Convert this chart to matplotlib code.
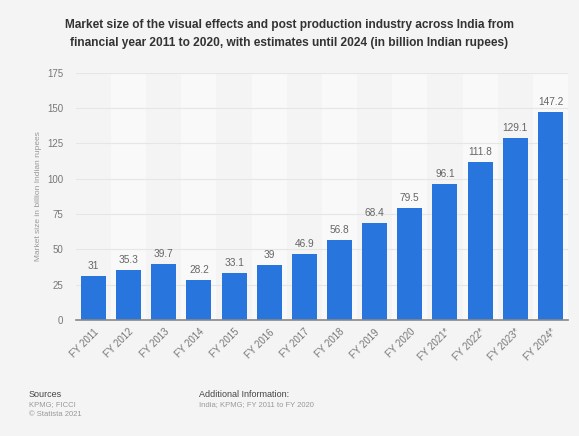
import matplotlib.pyplot as plt

plt.rcParams['font.family'] = ['Liberation Sans', 'DejaVu Sans']

# Datos
years = ['FY 2011', 'FY 2012', 'FY 2013', 'FY 2014', 'FY 2015', 'FY 2016', 'FY 2017',
         'FY 2018', 'FY 2019', 'FY 2020', 'FY 2021*', 'FY 2022*', 'FY 2023*', 'FY 2024*']
values = [31, 35.3, 39.7, 28.2, 33.1, 39, 46.9, 56.8, 68.4, 79.5, 96.1, 111.8, 129.1, 147.2]
labels = ['31', '35.3', '39.7', '28.2', '33.1', '39', '46.9', '56.8', '68.4', '79.5',
          '96.1', '111.8', '129.1', '147.2']
yticks = [0, 25, 50, 75, 100, 125, 150, 175]

bg = '#f4f4f4'
fig = plt.figure(figsize=(5.79, 4.36), dpi=100, facecolor=bg)
ax = fig.add_axes([0.131, 0.266, 0.85, 0.567], facecolor=bg)

x = list(range(len(years)))

# Franjas alternas
for i in x:
    if i % 2 == 1:
        ax.axvspan(i - 0.5, i + 0.5, color='#f9f9f9', zorder=0, lw=0)

ax.bar(x, values, width=0.71, color='#2876dd', zorder=3)

for xi, v, t in zip(x, values, labels):
    ax.text(xi, v + 3.5, t, ha='center', va='bottom', fontsize=7.3, color='#666666', zorder=4)

ax.set_xlim(-0.5, len(years) - 0.5)
ax.set_ylim(0, 175)
ax.set_yticks(yticks)
ax.set_yticklabels([str(t) for t in yticks])
ax.set_xticks(x)
ax.set_xticklabels(years, rotation=45, ha='right', rotation_mode='anchor')
ax.tick_params(axis='both', length=0, labelsize=7, colors='#777777', pad=9)
ax.tick_params(axis='x', pad=5)
ax.grid(axis='y', color='#e6e6e6', lw=0.8, zorder=1)

for s in ['top', 'right', 'left']:
    ax.spines[s].set_visible(False)
ax.spines['bottom'].set_color('#888888')
ax.spines['bottom'].set_linewidth(1.2)
ax.spines['bottom'].set_zorder(5)

ax.set_ylabel('Market size in billion Indian rupees', fontsize=6, color='#999999')
ax.yaxis.set_label_coords(-0.069, 0.5)

fig.text(0.5, 0.922, 'Market size of the visual effects and post production industry across India from\n'
         'financial year 2011 to 2020, with estimates until 2024 (in billion Indian rupees)',
         ha='center', va='center', fontsize=8.6, fontweight='bold', color='#333333', linespacing=1.75)

# Pie de figura
fig.text(0.05, 0.090, 'Sources', fontsize=6.5, color='#444444')
fig.text(0.05, 0.068, 'KPMG; FICCI', fontsize=5.5, color='#999999')
fig.text(0.05, 0.047, '© Statista 2021', fontsize=5.5, color='#999999')
fig.text(0.344, 0.090, 'Additional Information:', fontsize=6.5, color='#444444')
fig.text(0.344, 0.068, 'India; KPMG; FY 2011 to FY 2020', fontsize=5.5, color='#999999')

plt.savefig('out.png', dpi=100, facecolor=bg)
